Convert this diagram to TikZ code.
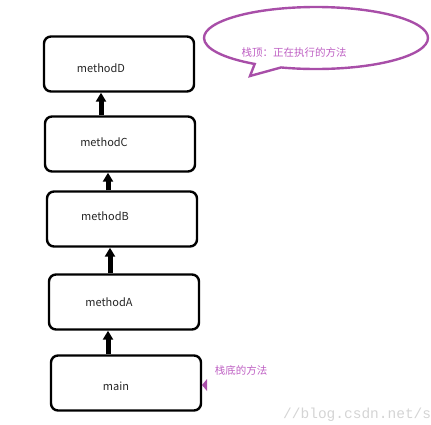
\documentclass[tikz,border=0pt]{standalone}
\usepackage{fontspec}
\setmainfont{Noto Sans CJK SC}
\newfontfamily\markfont{Liberation Mono}
\usetikzlibrary{arrows.meta}
\usetikzlibrary{shapes.callouts}
\definecolor{notepurple}{RGB}{168,78,168}
\definecolor{notetext}{RGB}{190,95,195}
\tikzset{
    frame/.style={
        draw,
        rounded corners=7pt,
        line width=2.4pt,
        minimum width=150pt,
        minimum height=55pt,
        fill=white
    },
    framelabel/.style={
        text=black!85,
        font=\fontsize{11}{13}\selectfont
    },
    pushup/.style={
        draw,
        -{Triangle[length=9pt, width=10pt]},
        line width=5pt
    },
    note/.style={
        text=notetext,
        font=\fontsize{10.5}{12}\selectfont
    }
}

\begin{document}
\begin{tikzpicture}[x=1pt,y=-1pt]
  \useasboundingbox (0,0) rectangle (431,424);

  % Stack frames
  \node[frame] (fD) at (119,64) {};
  \node[frame] (fC) at (120,144) {};
  \node[frame] (fB) at (122,219) {};
  \node[frame] (fA) at (124,302) {};
  \node[frame] (fM) at (126,383) {};

  % Frame labels
  \node[framelabel] (lD) at (101,68) {methodD};
  \node[framelabel] (lC) at (104,142) {methodC};
  \node[framelabel] (lB) at (105,216) {methodB};
  \node[framelabel] (lA) at (109,302) {methodA};
  \node[framelabel] (lM) at (116,386) {main};

  % Arrows between frames
  \draw[pushup] ([xshift=-19pt]fC.north) -- ([xshift=-18pt]fD.south);
  \draw[pushup] ([xshift=-14pt]fB.north) -- ([xshift=-12pt]fC.south);
  \draw[pushup] ([xshift=-14pt]fA.north) -- ([xshift=-12pt]fB.south);
  \draw[pushup] ([xshift=-18pt]fM.north) -- ([xshift=-16pt]fA.south);

  % Top-of-stack callout
  \node[ellipse callout, draw=notepurple, line width=2.4pt,
        minimum width=224pt, minimum height=62pt,
        callout absolute pointer={(250,76)}] (bubble) at (316,38) {};
  \node[note] (topnote) at (294,52) {栈顶：正在执行的方法};

  % Bottom-of-stack note
  \node[note] (bottomnote) at (241,370) {栈底的方法};
  \fill[notepurple] (207,379) -- (202,385) -- (207,391) -- cycle;

  % Watermark
  \node[text=black!17, font=\markfont\fontsize{14.5}{16}\selectfont, anchor=base west, inner sep=0pt] (mark) at (283,418) {//blog.csdn.net/s};
\end{tikzpicture}
\end{document}
